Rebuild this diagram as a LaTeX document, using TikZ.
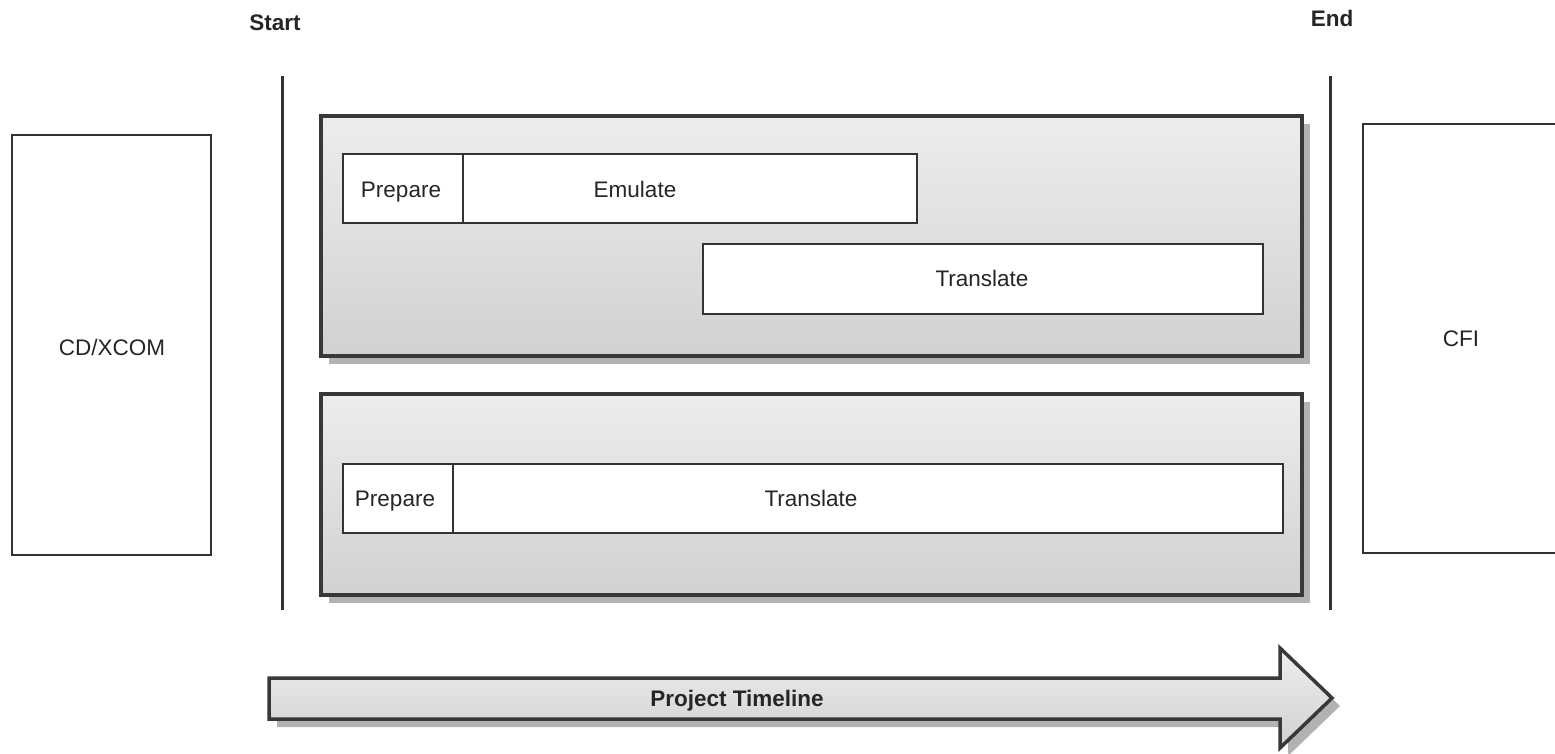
\documentclass[tikz,border=0pt]{standalone}
\usepackage{fontspec}
\setmainfont{Liberation Sans}
\begin{document}
\begin{tikzpicture}[x=1pt,y=-1pt,
  lbl/.style={font=\fontsize{22.5}{26}\selectfont,text=black!85,text height=16pt,text depth=0pt},
  blbl/.style={font=\fontsize{22.5}{26}\selectfont\bfseries,text=black!85,text height=16pt,text depth=0pt},
  outer/.style={draw=black!78,line width=3.5pt,top color=black!7,bottom color=black!18},
  shad/.style={fill=black!30,draw=none},
  inner/.style={draw=black!80,line width=1.8pt,fill=white,inner sep=0pt},
  side/.style={draw=black!80,line width=1.8pt,fill=white},
  vline/.style={draw=black!80,line width=3pt}]
\useasboundingbox (0,0) rectangle (1555,753);
\clip (0,0) rectangle (1555,753);
% labels
\node[blbl] (start) at (275,22) {Start};
\node[blbl] (end) at (1332,18) {End};
\draw[vline] (282,76) -- (282,610);
\draw[vline] (1330,76) -- (1330,610);
% side boxes
\draw[side] (12,135) rectangle (211,555);
\node[lbl] (cd) at (112,347) {CD/XCOM};
\draw[side] (1363,124) rectangle (1570,553);
\node[lbl] (cfi) at (1461,338) {CFI};
% big box 1
\fill[shad] (329,124) rectangle (1310,364);
\path[outer] (321,116) rectangle (1302,356);
% big box 2
\fill[shad] (329,402) rectangle (1310,603);
\path[outer] (321,394) rectangle (1302,595);
% inner boxes 1
\draw[inner] (343,154) rectangle (463,223);
\node[lbl] (p1) at (401,189) {Prepare};
\draw[inner] (463,154) rectangle (917,223);
\node[lbl] (e1) at (635,189) {Emulate};
\draw[inner] (703,244) rectangle (1263,314);
\node[lbl] (t1) at (982,278) {Translate};
% inner boxes 2
\draw[inner] (343,464) rectangle (453,533);
\node[lbl] (p2) at (395,498) {Prepare};
\draw[inner] (453,464) rectangle (1283,533);
\node[lbl] (t2) at (811,498) {Translate};
% arrow
\fill[shad] (277,686) -- (1288,686) -- (1288,656) -- (1340,706) -- (1288,756) -- (1288,727) -- (277,727) -- cycle;
\path[outer] (269,678) -- (1280,678) -- (1280,648) -- (1332,698) -- (1280,748) -- (1280,719) -- (269,719) -- cycle;
\node[blbl] (pt) at (737,698) {Project Timeline};
\end{tikzpicture}
\end{document}
